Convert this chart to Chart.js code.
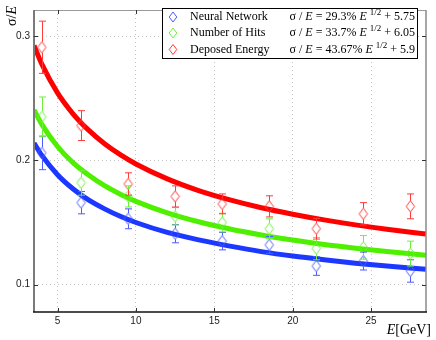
<!DOCTYPE html>
<html>
<head>
<meta charset="utf-8">
<script src="https://cdn.jsdelivr.net/npm/chart.js@4.4.1/dist/chart.umd.min.js"></script>
<style>
    html, body { margin: 0; padding: 0; background: #ffffff; }
    #wrap { position: relative; width: 436px; height: 340px; }
</style>
</head>
<body>
<div id="wrap"><canvas id="resolutionChart"></canvas></div>
<script>
// measured points (beam energy in GeV)
const energies = [4, 6.5, 9.5, 12.5, 15.5, 18.5, 21.5, 24.5, 27.5];
const neuralValues = [0.206, 0.166, 0.153, 0.141, 0.135, 0.132, 0.115, 0.119, 0.111];
const neuralErrors = [0.0135, 0.009, 0.008, 0.0073, 0.007, 0.0068, 0.0075, 0.0072, 0.009];
const hitsValues = [0.235, 0.182, 0.171, 0.155, 0.150, 0.145, 0.129, 0.130, 0.125];
const hitsErrors = [0.016, 0.010, 0.0085, 0.007, 0.0075, 0.008, 0.009, 0.0095, 0.010];
const energyValues = [0.291, 0.228, 0.181, 0.171, 0.165, 0.163, 0.145, 0.157, 0.163];
const energyErrors = [0.021, 0.012, 0.009, 0.0085, 0.008, 0.0085, 0.0083, 0.009, 0.010];

// fit curves
const fitEnergies = [3.5, 4, 5, 6, 7, 8, 9, 10, 12, 14, 16, 18, 20, 22, 24, 26, 28.5];
const neuralFit = [0.214, 0.204, 0.1885, 0.177, 0.168, 0.161, 0.155, 0.150, 0.142, 0.136, 0.131, 0.1266, 0.123, 0.120, 0.1173, 0.115, 0.1124];
const hitsFit = [0.2406, 0.229, 0.2112, 0.198, 0.188, 0.1796, 0.1728, 0.167, 0.1578, 0.1506, 0.1448, 0.140, 0.1359, 0.1323, 0.1293, 0.1266, 0.1236];
const energyFit = [0.2924, 0.2774, 0.2543, 0.2373, 0.2241, 0.2134, 0.2046, 0.1971, 0.1851, 0.1757, 0.1682, 0.1619, 0.1567, 0.1521, 0.1481, 0.1446, 0.1408];

const seriesNames = ['Neural Network', 'Number of Hits', 'Deposed Energy'];
const fitPercents = ['29.3%', '33.7%', '43.67%'];
const fitConstants = ['5.75', '6.05', '5.9'];

const xTicks = [5, 10, 15, 20, 25];
const yTicks = [0.1, 0.2, 0.3];

(function () {
    const lineColors = ['#1c38ff', '#4ef000', '#ff0000'];
    const markColors = ['#4d5cff', '#6ef03c', '#ff3a3a'];
    const serif = '"Liberation Serif", "Times New Roman", serif';
    const sans = '"Liberation Sans", Arial, sans-serif';

    function toPoints(xs, ys) {
        return xs.map((x, i) => ({ x: x, y: ys[i] }));
    }

    function diamond(ctx, x, y, rx, ry) {
        ctx.beginPath();
        ctx.moveTo(x, y - ry);
        ctx.lineTo(x + rx, y);
        ctx.lineTo(x, y + ry);
        ctx.lineTo(x - rx, y);
        ctx.closePath();
        ctx.stroke();
    }

    // matlab style diamond, a bit taller than wide
    function diamondImage(color) {
        const c = document.createElement('canvas');
        c.width = 11;
        c.height = 13;
        const g = c.getContext('2d');
        g.strokeStyle = color;
        g.lineWidth = 1;
        diamond(g, 5.5, 6.5, 4.2, 5.6);
        return c;
    }

    // draws a list of text pieces left to right, returns total width
    function runs(ctx, pieces, x, y, measureOnly) {
        let cx = x;
        pieces.forEach((p) => {
            ctx.font = p.font;
            const w = ctx.measureText(p.text).width;
            if (!measureOnly) ctx.fillText(p.text, cx, y + (p.dy || 0));
            cx += w;
        });
        return cx - x;
    }

    const errorData = [neuralErrors, hitsErrors, energyErrors];

    const decorPlugin = {
        id: 'decor',
        afterDatasetsDraw(chart) {
            const ctx = chart.ctx;
            const xs = chart.scales.x;
            const ys = chart.scales.y;
            const area = chart.chartArea;

            // error bars on the measured points
            ctx.save();
            ctx.beginPath();
            ctx.rect(area.left, area.top, area.right - area.left, area.bottom - area.top);
            ctx.clip();
            ctx.lineWidth = 1;
            [3, 4, 5].forEach((dsIndex, k) => {
                const ds = chart.data.datasets[dsIndex];
                ctx.strokeStyle = markColors[k];
                ds.data.forEach((pt, i) => {
                    const px = Math.round(xs.getPixelForValue(pt.x)) + 0.5;
                    const top = ys.getPixelForValue(pt.y + errorData[k][i]);
                    const bot = ys.getPixelForValue(pt.y - errorData[k][i]);
                    const mid = ys.getPixelForValue(pt.y);
                    ctx.beginPath();
                    ctx.moveTo(px, top);
                    ctx.lineTo(px, mid - 5.5);
                    ctx.moveTo(px, mid + 5.5);
                    ctx.lineTo(px, bot);
                    ctx.moveTo(px - 3.5, top);
                    ctx.lineTo(px + 3.5, top);
                    ctx.moveTo(px - 3.5, bot);
                    ctx.lineTo(px + 3.5, bot);
                    ctx.stroke();
                });
            });
            ctx.restore();
        },
        afterDraw(chart) {
            const ctx = chart.ctx;
            const xs = chart.scales.x;
            const ys = chart.scales.y;
            const a = chart.chartArea;

            ctx.save();

            // box around the axes
            ctx.lineWidth = 1;
            ctx.strokeStyle = '#9a9a9a';
            ctx.beginPath();
            ctx.moveTo(a.left, a.top + 0.5);
            ctx.lineTo(a.right, a.top + 0.5);
            ctx.stroke();
            ctx.lineWidth = 1.5;
            ctx.strokeStyle = '#8a8a8a';
            ctx.beginPath();
            ctx.moveTo(a.right, a.top);
            ctx.lineTo(a.right, a.bottom);
            ctx.stroke();
            ctx.lineWidth = 2;
            ctx.strokeStyle = '#7a7a7a';
            ctx.beginPath();
            ctx.moveTo(a.left, a.top);
            ctx.lineTo(a.left, a.bottom);
            ctx.stroke();
            ctx.lineWidth = 1.5;
            ctx.strokeStyle = '#111111';
            ctx.beginPath();
            ctx.moveTo(a.left - 1, a.bottom);
            ctx.lineTo(a.right + 1, a.bottom);
            ctx.stroke();

            // inward tick marks
            ctx.lineWidth = 1;
            ctx.strokeStyle = '#333333';
            ctx.beginPath();
            xs.ticks.forEach((t) => {
                const px = Math.round(xs.getPixelForValue(t.value)) + 0.5;
                ctx.moveTo(px, a.bottom);
                ctx.lineTo(px, a.bottom - 4);
                ctx.moveTo(px, a.top);
                ctx.lineTo(px, a.top + 4);
            });
            ys.ticks.forEach((t) => {
                const py = Math.round(ys.getPixelForValue(t.value)) + 0.5;
                ctx.moveTo(a.left, py);
                ctx.lineTo(a.left + 4, py);
                ctx.moveTo(a.right, py);
                ctx.lineTo(a.right - 4, py);
            });
            ctx.stroke();

            // y axis title, rotated at the top left
            ctx.fillStyle = '#000000';
            ctx.textBaseline = 'middle';
            ctx.textAlign = 'left';
            const yTitle = [
                { text: 'σ/', font: '14px ' + serif },
                { text: 'E', font: 'italic 14px ' + serif },
            ];
            ctx.translate(12, 16);
            ctx.rotate(-Math.PI / 2);
            const tw = runs(ctx, yTitle, 0, 0, true);
            runs(ctx, yTitle, -tw / 2, 0, false);
            ctx.setTransform(1, 0, 0, 1, 0, 0);

            // x axis title at the bottom right
            ctx.textBaseline = 'alphabetic';
            const xTitle = [
                { text: 'E', font: 'italic 14px ' + serif },
                { text: '[GeV]', font: '14px ' + serif },
            ];
            const xw = runs(ctx, xTitle, 0, 0, true);
            runs(ctx, xTitle, 431 - xw, 334, false);

            // legend box
            const box = { left: 162, top: 8, right: 418, bottom: 59 };
            ctx.fillStyle = '#ffffff';
            ctx.fillRect(box.left, box.top, box.right - box.left, box.bottom - box.top);
            ctx.lineWidth = 1;
            ctx.strokeStyle = '#000000';
            ctx.strokeRect(box.left + 0.5, box.top + 0.5, box.right - box.left - 1, box.bottom - box.top - 1);

            const baselines = [20, 36, 52.5];
            seriesNames.forEach((name, i) => {
                const base = baselines[i];
                ctx.strokeStyle = markColors[i];
                ctx.lineWidth = 1;
                diamond(ctx, 173, base - 3, 3.8, 5);

                ctx.fillStyle = '#000000';
                ctx.font = '12px ' + serif;
                ctx.fillText(name, 190, base);

                const formula = [
                    { text: 'σ / ', font: '12px ' + serif },
                    { text: 'E', font: 'italic 12px ' + serif },
                    { text: ' = ' + fitPercents[i] + ' ', font: '12px ' + serif },
                    { text: 'E', font: 'italic 12px ' + serif },
                    { text: ' ', font: '12px ' + serif },
                    { text: '1/2', font: '9px ' + serif, dy: -5 },
                    { text: ' + ' + fitConstants[i], font: '12px ' + serif },
                ];
                const fw = runs(ctx, formula, 0, 0, true);
                runs(ctx, formula, 415 - fw, base, false);
            });

            ctx.restore();
        },
    };

    function init() {
        const canvas = document.getElementById('resolutionChart');
        const ctx = canvas.getContext('2d');

        const curveSets = [neuralFit, hitsFit, energyFit].map((fit, i) => ({
            label: seriesNames[i] + ' fit',
            data: toPoints(fitEnergies, fit),
            showLine: true,
            borderColor: lineColors[i],
            backgroundColor: lineColors[i],
            borderWidth: 5,
            pointRadius: 0,
            cubicInterpolationMode: 'monotone',
            order: 2,
        }));

        const markSets = [neuralValues, hitsValues, energyValues].map((vals, i) => ({
            label: seriesNames[i],
            data: toPoints(energies, vals),
            showLine: false,
            pointStyle: diamondImage(markColors[i]),
            pointRadius: 5,
            order: 1,
        }));

        new Chart(ctx, {
            type: 'scatter',
            data: { datasets: curveSets.concat(markSets) },
            options: {
                responsive: true,
                maintainAspectRatio: false,
                animation: false,
                events: [],
                layout: {
                    padding: { top: 3, right: 10, bottom: 0, left: 0 },
                },
                plugins: {
                    legend: { display: false },
                    tooltip: { enabled: false },
                },
                scales: {
                    x: {
                        type: 'linear',
                        min: 3.5,
                        max: 28.5,
                        afterBuildTicks(scale) {
                            scale.ticks = xTicks.map((v) => ({ value: v }));
                        },
                        afterFit(scale) {
                            scale.height = 28;
                        },
                        grid: {
                            color: '#c4c4c4',
                            lineWidth: 1,
                            drawTicks: false,
                        },
                        border: { display: false, dash: [1, 3] },
                        ticks: {
                            color: '#222222',
                            padding: 3,
                            font: { family: sans, size: 10 },
                            callback(value) {
                                return String(value);
                            },
                        },
                    },
                    y: {
                        type: 'linear',
                        min: 0.078,
                        max: 0.321,
                        afterBuildTicks(scale) {
                            scale.ticks = yTicks.map((v) => ({ value: v }));
                        },
                        afterFit(scale) {
                            scale.width = 34;
                        },
                        grid: {
                            color: '#c4c4c4',
                            lineWidth: 1,
                            drawTicks: false,
                        },
                        border: { display: false, dash: [1, 3] },
                        ticks: {
                            color: '#222222',
                            padding: 4,
                            font: { family: sans, size: 10 },
                            callback(value) {
                                return String(value);
                            },
                        },
                    },
                },
            },
            plugins: [decorPlugin],
        });
    }

    if (document.readyState === 'loading') {
        document.addEventListener('DOMContentLoaded', init);
    } else {
        init();
    }
})();
</script>
</body>
</html>
